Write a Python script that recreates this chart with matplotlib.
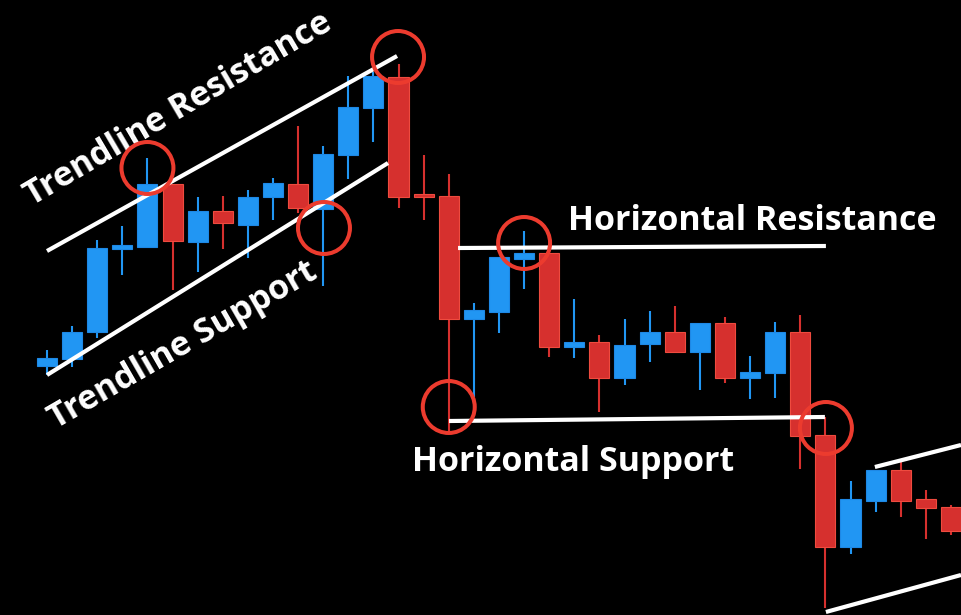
import matplotlib.pyplot as plt
import numpy as np

# candle data (price units, higher = up)
opens = [249, 256, 283, 366, 368, 431, 373, 404, 390, 418, 431, 406, 460,
         507, 538, 420, 419, 296, 303, 356, 362, 268, 273, 237, 271, 283,
         263, 292, 237, 242, 283, 180, 68, 114, 145, 116, 108]
closes = [257, 283, 367, 370, 431, 374, 404, 392, 418, 432, 407, 461, 508,
          539, 418, 418, 296, 305, 358, 362, 268, 273, 237, 270, 283, 263,
          292, 237, 243, 283, 179, 68, 116, 145, 114, 107, 84]
highs = [265, 289, 375, 389, 457, 431, 418, 419, 425, 437, 489, 469, 539,
         543, 551, 460, 441, 312, 358, 384, 362, 316, 280, 296, 304, 309,
         292, 298, 259, 293, 300, 198, 134, 145, 154, 125, 110]
lows = [240, 248, 277, 340, 368, 325, 343, 366, 357, 395, 402, 329, 436,
        473, 407, 395, 182, 218, 282, 326, 258, 257, 203, 230, 253, 262,
        225, 232, 216, 217, 146, 7, 61, 103, 98, 76, 80]

# support / resistance lines: (x0, x1) candle index, (y0, y1) price
trend_res_x = [0, 13.94]
trend_res_y = [364, 559]
trend_sup_x = [0, 13.58]
trend_sup_y = [240, 452]
horiz_res_x = [16.37, 31.02]
horiz_res_y = [367, 369]
horiz_sup_x = [16.01, 30.98]
horiz_sup_y = [194, 198]
chan_top_x = [32.97, 36.4]
chan_top_y = [148, 170]
chan_bot_x = [31.02, 36.4]
chan_bot_y = [3, 40]

# touch points circled in red
touch_x = [4, 13.98, 11.03, 19.0, 16.0, 31.02]
touch_y = [447, 558, 387, 372, 208, 187]

blue = '#2196f3'
red = '#d6302e'

fig = plt.figure(figsize=(9.61, 6.15), dpi=100, facecolor='black')
ax = fig.add_axes([0, 0, 1, 1])
ax.set_facecolor('black')
ax.set_xlim(-1.872, 36.4)
ax.set_ylim(0, 615)
ax.axis('off')

idx = np.arange(len(opens))
#Drawing the wicks and bodies
for i in idx:
    up = closes[i] >= opens[i]
    col = blue if up else red
    edge = '#1e88e5' if up else '#ef4b3f'
    ax.vlines(i, lows[i], highs[i], color=col, linewidth=1.5, zorder=2)
    h = abs(closes[i] - opens[i])
    ax.bar(i, max(h, 3), bottom=min(opens[i], closes[i]), width=0.8,
           color=col, edgecolor=edge, linewidth=0.8, zorder=3)

#Drawing the white support and resistance lines
line_kw = dict(color='white', linewidth=3, solid_capstyle='butt', zorder=4)
for xs, ys in [(trend_res_x, trend_res_y), (trend_sup_x, trend_sup_y),
               (horiz_res_x, horiz_res_y), (horiz_sup_x, horiz_sup_y),
               (chan_top_x, chan_top_y), (chan_bot_x, chan_bot_y)]:
    ax.plot(xs, ys, **line_kw)

#Red circles on the touches
ax.scatter(touch_x, touch_y, s=1400, facecolors='none', edgecolors='#ec3b2e',
           linewidths=2.9, zorder=6)

#Labels
font = {'family': 'Open Sans', 'weight': 'bold', 'size': 24.5,
        'color': 'white'}
ax.text(5.22, 506, 'Trendline Resistance', rotation=30.5, ha='center',
        va='center', rotation_mode='anchor', zorder=5, **font)
ax.text(5.42, 270, 'Trendline Support', rotation=30, ha='center',
        va='center', rotation_mode='anchor', zorder=5, **font)
ax.text(20.75, 385, 'Horizontal Resistance', ha='left', va='baseline',
        zorder=5, **font)
ax.text(14.54, 144, 'Horizontal Support', ha='left', va='baseline',
        zorder=5, **font)

fig.savefig('out.png', dpi=100, facecolor='black')
